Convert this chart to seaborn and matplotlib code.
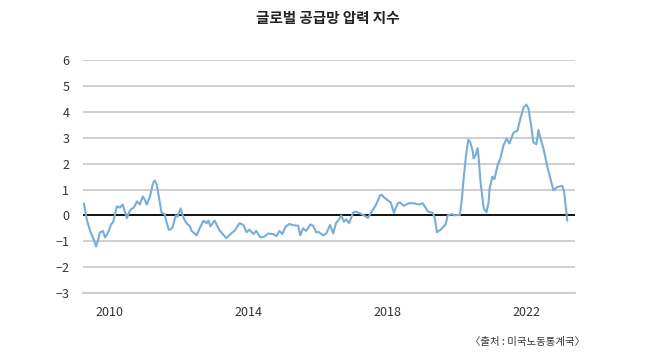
import matplotlib
matplotlib.use("Agg")
import matplotlib.pyplot as plt
import seaborn as sns
import pandas as pd

# decimal-year positions and index values
years = [2009.25, 2009.34, 2009.43, 2009.48, 2009.54, 2009.60, 2009.66, 2009.71, 2009.80, 2009.86,
         2009.91, 2009.97, 2010.03, 2010.09, 2010.14, 2010.20, 2010.29, 2010.37, 2010.43, 2010.49,
         2010.55, 2010.60, 2010.69, 2010.78, 2010.86, 2010.95, 2011.01, 2011.06, 2011.15, 2011.24,
         2011.29, 2011.35, 2011.44, 2011.49, 2011.58, 2011.64, 2011.70, 2011.75, 2011.81, 2011.90,
         2011.95, 2012.04, 2012.10, 2012.16, 2012.24, 2012.30, 2012.36, 2012.50, 2012.59, 2012.70,
         2012.79, 2012.84, 2012.90, 2013.02, 2013.16, 2013.36, 2013.51, 2013.59, 2013.74, 2013.85,
         2013.94, 2014.02, 2014.14, 2014.22, 2014.34, 2014.45, 2014.57, 2014.71, 2014.80, 2014.89,
         2014.97, 2015.06, 2015.17, 2015.29, 2015.43, 2015.49, 2015.57, 2015.66, 2015.78, 2015.86,
         2015.95, 2016.03, 2016.15, 2016.24, 2016.35, 2016.44, 2016.52, 2016.61, 2016.67, 2016.75,
         2016.81, 2016.90, 2017.01, 2017.07, 2017.18, 2017.33, 2017.44, 2017.53, 2017.67, 2017.79,
         2017.84, 2017.90, 2018.02, 2018.10, 2018.19, 2018.25, 2018.30, 2018.36, 2018.48, 2018.62,
         2018.76, 2018.91, 2019.02, 2019.08, 2019.17, 2019.31, 2019.37, 2019.43, 2019.54, 2019.68,
         2019.74, 2019.80, 2019.86, 2019.94, 2020.03, 2020.09, 2020.14, 2020.20, 2020.26, 2020.32,
         2020.34, 2020.40, 2020.46, 2020.49, 2020.55, 2020.60, 2020.63, 2020.69, 2020.78, 2020.86,
         2020.92, 2020.95, 2021.03, 2021.09, 2021.18, 2021.26, 2021.35, 2021.44, 2021.52, 2021.64,
         2021.75, 2021.84, 2021.93, 2022.01, 2022.07, 2022.16, 2022.21, 2022.30, 2022.36, 2022.41,
         2022.50, 2022.62, 2022.67, 2022.79, 2022.90, 2023.05, 2023.10, 2023.19]
values = [0.46, -0.2, -0.6, -0.77, -0.95, -1.2, -0.95, -0.66, -0.6, -0.85,
          -0.75, -0.6, -0.35, -0.27, 0.0, 0.35, 0.3, 0.42, 0.15, -0.1,
          0.1, 0.23, 0.3, 0.54, 0.42, 0.73, 0.6, 0.42, 0.7, 1.23,
          1.35, 1.2, 0.5, 0.1, 0.05, -0.3, -0.55, -0.55, -0.45, 0.0,
          -0.05, 0.27, 0.0, -0.2, -0.35, -0.4, -0.6, -0.77, -0.5, -0.2,
          -0.3, -0.2, -0.42, -0.2, -0.58, -0.88, -0.68, -0.6, -0.3, -0.37,
          -0.65, -0.55, -0.72, -0.6, -0.85, -0.82, -0.7, -0.72, -0.8, -0.6,
          -0.72, -0.45, -0.33, -0.38, -0.4, -0.77, -0.5, -0.6, -0.35, -0.4,
          -0.65, -0.65, -0.77, -0.7, -0.37, -0.7, -0.3, -0.15, 0.0, -0.25,
          -0.15, -0.3, 0.1, 0.15, 0.1, 0.0, -0.1, 0.1, 0.4, 0.77,
          0.8, 0.7, 0.58, 0.5, 0.1, 0.3, 0.47, 0.5, 0.37, 0.47,
          0.47, 0.42, 0.47, 0.35, 0.15, 0.1, -0.1, -0.65, -0.55, -0.35,
          0.0, 0.02, 0.05, 0.0, 0.02, 0.0, 0.5, 1.4, 2.2, 2.8,
          2.93, 2.8, 2.5, 2.2, 2.35, 2.6, 2.3, 1.27, 0.27, 0.12,
          0.5, 1.04, 1.5, 1.4, 1.93, 2.2, 2.7, 2.97, 2.78, 3.2,
          3.27, 3.75, 4.17, 4.28, 4.13, 3.36, 2.82, 2.75, 3.3, 3.0,
          2.6, 1.85, 1.6, 0.97, 1.1, 1.14, 0.9, -0.2]

y_ticks = [-3, -2, -1, 0, 1, 2, 3, 4, 5, 6]
x_ticks = [2010, 2012, 2014, 2016, 2018, 2020, 2022]
x_labels = ["2010", "", "2014", "", "2018", "", "2022"]
title = "글로벌 공급망 압력 지수"
source = "〈출처 : 미국노동통계국〉"

sns.set_style("white")
plt.rcParams['font.family'] = ['Noto Sans CJK KR', 'DejaVu Sans']

df = pd.DataFrame({"year": years, "value": values})

fig = plt.figure(figsize=(6.5, 3.6), dpi=100)
ax = fig.add_axes([0.128, 0.186, 0.757, 0.647])

for yv in y_ticks:
    if yv == 0:
        continue
    ax.axhline(yv, color="#cccccc", lw=1.3, zorder=1)
ax.axhline(0, color="#111111", lw=1.4, zorder=2)

sns.lineplot(data=df, x="year", y="value", ax=ax, color="#76ade0", lw=1.5, zorder=3)

ax.set_xlim(2009.23, 2023.42)
ax.set_ylim(-3, 6)
ax.set_yticks(y_ticks)
ax.set_yticklabels([f"{v}" if v >= 0 else f"\u2212{abs(v)}" for v in y_ticks])
ax.set_xticks(x_ticks)
ax.set_xticklabels(x_labels)
ax.set_xlabel("")
ax.set_ylabel("")
for s in ["top", "right", "left"]:
    ax.spines[s].set_visible(False)
ax.spines["bottom"].set_color("#cccccc")
ax.spines["bottom"].set_linewidth(1.3)
ax.tick_params(axis="x", length=6, width=1, color="#bbbbbb", labelsize=9, labelcolor="#333333", pad=3, direction="out")
ax.tick_params(axis="y", length=0, labelsize=9, labelcolor="#333333", pad=10)

fig.text(0.505, 0.95, title, ha="center", va="center", fontsize=10.5, color="#222222", fontweight="bold")
fig.text(0.9, 0.05, source, ha="right", va="center", fontsize=7.5, color="#333333")

fig.savefig("out.png", dpi=100)
